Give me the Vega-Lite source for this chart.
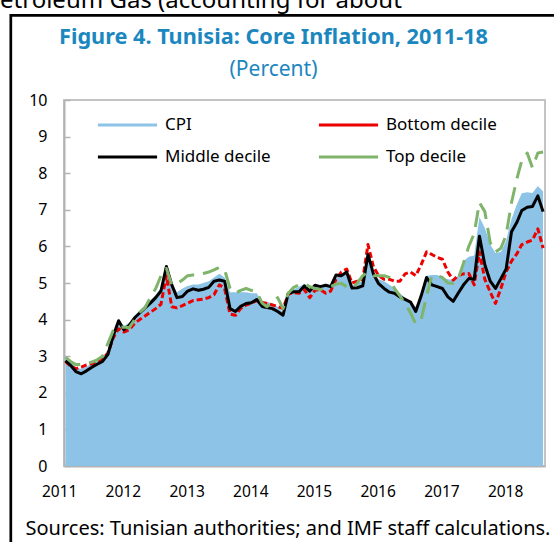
{
  "$schema": "https://vega.github.io/schema/vega-lite/v6.json",
  "width": 481,
  "height": 366,
  "autosize": {"type": "none"},
  "padding": {"left": 64, "top": 100, "right": 9, "bottom": 76},
  "background": "#ffffff",
  "title": {
    "text": "Figure 4. Tunisia: Core Inflation, 2011-18",
    "subtitle": "(Percent)",
    "frame": "group",
    "anchor": "middle",
    "dx": -31,
    "offset": -92,
    "font": "Noto Sans",
    "fontSize": 21.7,
    "fontWeight": "bold",
    "color": "#1b87bf",
    "subtitleFont": "Noto Sans",
    "subtitleFontSize": 21,
    "subtitleColor": "#1b87bf",
    "subtitlePadding": 10
  },
  "config": {
    "font": "Noto Sans",
    "view": {"stroke": "#c4c4c4", "strokeWidth": 2},
    "axis": {
      "grid": false,
      "domainColor": "#b3b3b3",
      "domainWidth": 2,
      "tickColor": "#b3b3b3",
      "tickWidth": 1.5,
      "tickSize": -6,
      "labelColor": "#000000",
      "labelFont": "Noto Sans",
      "titleFont": "Noto Sans",
      "titleColor": "#000000",
      "titleFontWeight": "normal",
      "labelOverlap": false
    },
    "axisX": {
      "labelFontSize": 15.5,
      "labelPadding": 24,
      "labelOffset": -6.4,
      "titleFontSize": 20,
      "titleAnchor": "start",
      "titleAlign": "left",
      "titleBaseline": "alphabetic",
      "titleX": -39,
      "titleY": 68
    },
    "axisY": {
      "labelFontSize": 16,
      "labelPadding": 23,
      "titleAngle": 0,
      "titleAlign": "left",
      "titleBaseline": "alphabetic",
      "titleX": -79,
      "titleY": -93,
      "titleFontSize": 24
    },
    "legend": {
      "labelFont": "Noto Sans"
    }
  },
  "data": {
    "values": [
      {"date": "2011-01-01", "CPI": 3.0, "Bottom": 2.85, "Middle": 2.88, "Top": 2.97},
      {"date": "2011-02-01", "CPI": 2.85, "Bottom": 2.72, "Middle": 2.74, "Top": 2.85},
      {"date": "2011-03-01", "CPI": 2.7, "Bottom": 2.66, "Middle": 2.58, "Top": 2.77},
      {"date": "2011-04-01", "CPI": 2.65, "Bottom": 2.7, "Middle": 2.52, "Top": 2.77},
      {"date": "2011-05-01", "CPI": 2.72, "Bottom": 2.76, "Middle": 2.6, "Top": 2.8},
      {"date": "2011-06-01", "CPI": 2.8, "Bottom": 2.8, "Middle": 2.7, "Top": 2.84},
      {"date": "2011-07-01", "CPI": 2.86, "Bottom": 2.85, "Middle": 2.78, "Top": 2.9},
      {"date": "2011-08-01", "CPI": 2.95, "Bottom": 2.93, "Middle": 2.86, "Top": 3.0},
      {"date": "2011-09-01", "CPI": 3.2, "Bottom": 3.08, "Middle": 3.05, "Top": 3.35},
      {"date": "2011-10-01", "CPI": 3.65, "Bottom": 3.5, "Middle": 3.55, "Top": 3.7},
      {"date": "2011-11-01", "CPI": 3.98, "Bottom": 3.75, "Middle": 3.97, "Top": 3.78},
      {"date": "2011-12-01", "CPI": 3.82, "Bottom": 3.66, "Middle": 3.72, "Top": 3.8},
      {"date": "2012-01-01", "CPI": 3.92, "Bottom": 3.72, "Middle": 3.84, "Top": 3.78},
      {"date": "2012-02-01", "CPI": 4.1, "Bottom": 3.9, "Middle": 4.05, "Top": 4.0},
      {"date": "2012-03-01", "CPI": 4.25, "Bottom": 4.0, "Middle": 4.18, "Top": 4.2},
      {"date": "2012-04-01", "CPI": 4.4, "Bottom": 4.1, "Middle": 4.32, "Top": 4.33},
      {"date": "2012-05-01", "CPI": 4.52, "Bottom": 4.2, "Middle": 4.45, "Top": 4.6},
      {"date": "2012-06-01", "CPI": 4.68, "Bottom": 4.3, "Middle": 4.6, "Top": 4.85},
      {"date": "2012-07-01", "CPI": 4.88, "Bottom": 4.42, "Middle": 4.78, "Top": 5.2},
      {"date": "2012-08-01", "CPI": 5.42, "Bottom": 5.2, "Middle": 5.45, "Top": 5.4},
      {"date": "2012-09-01", "CPI": 4.98, "Bottom": 4.35, "Middle": 4.95, "Top": 4.95},
      {"date": "2012-10-01", "CPI": 4.75, "Bottom": 4.32, "Middle": 4.6, "Top": 4.98},
      {"date": "2012-11-01", "CPI": 4.85, "Bottom": 4.38, "Middle": 4.63, "Top": 5.08},
      {"date": "2012-12-01", "CPI": 4.92, "Bottom": 4.45, "Middle": 4.78, "Top": 5.2},
      {"date": "2013-01-01", "CPI": 4.96, "Bottom": 4.52, "Middle": 4.84, "Top": 5.22},
      {"date": "2013-02-01", "CPI": 4.96, "Bottom": 4.54, "Middle": 4.8, "Top": 5.22},
      {"date": "2013-03-01", "CPI": 5.0, "Bottom": 4.56, "Middle": 4.83, "Top": 5.26},
      {"date": "2013-04-01", "CPI": 5.05, "Bottom": 4.6, "Middle": 4.88, "Top": 5.3},
      {"date": "2013-05-01", "CPI": 5.15, "Bottom": 4.68, "Middle": 5.05, "Top": 5.36},
      {"date": "2013-06-01", "CPI": 5.25, "Bottom": 4.95, "Middle": 5.08, "Top": 5.43},
      {"date": "2013-07-01", "CPI": 5.15, "Bottom": 4.85, "Middle": 5.05, "Top": 5.36},
      {"date": "2013-08-01", "CPI": 4.75, "Bottom": 4.15, "Middle": 4.3, "Top": 4.85},
      {"date": "2013-09-01", "CPI": 4.75, "Bottom": 4.12, "Middle": 4.22, "Top": 4.72},
      {"date": "2013-10-01", "CPI": 4.75, "Bottom": 4.3, "Middle": 4.36, "Top": 4.8},
      {"date": "2013-11-01", "CPI": 4.75, "Bottom": 4.4, "Middle": 4.44, "Top": 4.85},
      {"date": "2013-12-01", "CPI": 4.72, "Bottom": 4.45, "Middle": 4.46, "Top": 4.8},
      {"date": "2014-01-01", "CPI": 4.72, "Bottom": 4.52, "Middle": 4.55, "Top": 4.76},
      {"date": "2014-02-01", "CPI": 4.5, "Bottom": 4.47, "Middle": 4.36, "Top": 4.45},
      {"date": "2014-03-01", "CPI": 4.48, "Bottom": 4.44, "Middle": 4.33, "Top": 4.35},
      {"date": "2014-04-01", "CPI": 4.45, "Bottom": 4.4, "Middle": 4.3, "Top": 4.5},
      {"date": "2014-05-01", "CPI": 4.35, "Bottom": 4.36, "Middle": 4.22, "Top": 4.6},
      {"date": "2014-06-01", "CPI": 4.2, "Bottom": 4.3, "Middle": 4.12, "Top": 4.3},
      {"date": "2014-07-01", "CPI": 4.72, "Bottom": 4.7, "Middle": 4.72, "Top": 4.72},
      {"date": "2014-08-01", "CPI": 4.82, "Bottom": 4.74, "Middle": 4.76, "Top": 4.88},
      {"date": "2014-09-01", "CPI": 4.9, "Bottom": 4.72, "Middle": 4.76, "Top": 4.95},
      {"date": "2014-10-01", "CPI": 4.97, "Bottom": 4.82, "Middle": 4.92, "Top": 4.98},
      {"date": "2014-11-01", "CPI": 4.88, "Bottom": 4.6, "Middle": 4.78, "Top": 4.9},
      {"date": "2014-12-01", "CPI": 4.95, "Bottom": 4.8, "Middle": 4.94, "Top": 4.85},
      {"date": "2015-01-01", "CPI": 4.92, "Bottom": 4.82, "Middle": 4.9, "Top": 4.82},
      {"date": "2015-02-01", "CPI": 4.93, "Bottom": 4.72, "Middle": 4.94, "Top": 4.85},
      {"date": "2015-03-01", "CPI": 4.95, "Bottom": 4.78, "Middle": 4.9, "Top": 4.9},
      {"date": "2015-04-01", "CPI": 5.15, "Bottom": 5.1, "Middle": 5.22, "Top": 4.97},
      {"date": "2015-05-01", "CPI": 5.2, "Bottom": 5.3, "Middle": 5.2, "Top": 4.99},
      {"date": "2015-06-01", "CPI": 5.25, "Bottom": 5.38, "Middle": 5.3, "Top": 4.9},
      {"date": "2015-07-01", "CPI": 4.92, "Bottom": 5.0, "Middle": 4.86, "Top": 4.85},
      {"date": "2015-08-01", "CPI": 5.0, "Bottom": 5.05, "Middle": 4.87, "Top": 5.0},
      {"date": "2015-09-01", "CPI": 5.05, "Bottom": 5.1, "Middle": 4.92, "Top": 5.2},
      {"date": "2015-10-01", "CPI": 5.6, "Bottom": 6.05, "Middle": 5.78, "Top": 5.3},
      {"date": "2015-11-01", "CPI": 5.3, "Bottom": 5.45, "Middle": 5.25, "Top": 5.2},
      {"date": "2015-12-01", "CPI": 5.1, "Bottom": 5.2, "Middle": 4.98, "Top": 5.2},
      {"date": "2016-01-01", "CPI": 5.05, "Bottom": 5.1, "Middle": 4.85, "Top": 5.2},
      {"date": "2016-02-01", "CPI": 4.95, "Bottom": 5.1, "Middle": 4.75, "Top": 5.15},
      {"date": "2016-03-01", "CPI": 4.85, "Bottom": 5.05, "Middle": 4.72, "Top": 4.85},
      {"date": "2016-04-01", "CPI": 4.72, "Bottom": 5.05, "Middle": 4.62, "Top": 4.65},
      {"date": "2016-05-01", "CPI": 4.6, "Bottom": 5.25, "Middle": 4.55, "Top": 4.45},
      {"date": "2016-06-01", "CPI": 4.45, "Bottom": 5.3, "Middle": 4.48, "Top": 4.18},
      {"date": "2016-07-01", "CPI": 4.35, "Bottom": 5.2, "Middle": 4.22, "Top": 3.88},
      {"date": "2016-08-01", "CPI": 4.75, "Bottom": 5.5, "Middle": 4.65, "Top": 4.0},
      {"date": "2016-09-01", "CPI": 5.2, "Bottom": 5.85, "Middle": 5.15, "Top": 4.65},
      {"date": "2016-10-01", "CPI": 5.22, "Bottom": 5.78, "Middle": 4.95, "Top": 5.2},
      {"date": "2016-11-01", "CPI": 5.22, "Bottom": 5.7, "Middle": 4.9, "Top": 5.2},
      {"date": "2016-12-01", "CPI": 5.15, "Bottom": 5.65, "Middle": 4.85, "Top": 5.15},
      {"date": "2017-01-01", "CPI": 5.1, "Bottom": 5.3, "Middle": 4.62, "Top": 5.0},
      {"date": "2017-02-01", "CPI": 5.08, "Bottom": 5.08, "Middle": 4.5, "Top": 4.99},
      {"date": "2017-03-01", "CPI": 5.2, "Bottom": 5.2, "Middle": 4.72, "Top": 5.1},
      {"date": "2017-04-01", "CPI": 5.6, "Bottom": 5.25, "Middle": 4.95, "Top": 5.55},
      {"date": "2017-05-01", "CPI": 5.72, "Bottom": 5.26, "Middle": 5.12, "Top": 6.0},
      {"date": "2017-06-01", "CPI": 5.75, "Bottom": 4.95, "Middle": 5.1, "Top": 6.35},
      {"date": "2017-07-01", "CPI": 6.8, "Bottom": 5.85, "Middle": 6.28, "Top": 7.2},
      {"date": "2017-08-01", "CPI": 6.5, "Bottom": 5.1, "Middle": 5.5, "Top": 6.95},
      {"date": "2017-09-01", "CPI": 6.05, "Bottom": 4.75, "Middle": 5.05, "Top": 6.1},
      {"date": "2017-10-01", "CPI": 5.82, "Bottom": 4.44, "Middle": 4.85, "Top": 5.85},
      {"date": "2017-11-01", "CPI": 5.85, "Bottom": 4.85, "Middle": 5.12, "Top": 5.95},
      {"date": "2017-12-01", "CPI": 6.15, "Bottom": 5.3, "Middle": 5.38, "Top": 6.3},
      {"date": "2018-01-01", "CPI": 6.75, "Bottom": 5.6, "Middle": 6.4, "Top": 7.2},
      {"date": "2018-02-01", "CPI": 7.15, "Bottom": 5.8, "Middle": 6.66, "Top": 7.85},
      {"date": "2018-03-01", "CPI": 7.45, "Bottom": 6.05, "Middle": 6.98, "Top": 8.35},
      {"date": "2018-04-01", "CPI": 7.48, "Bottom": 6.12, "Middle": 7.07, "Top": 8.55},
      {"date": "2018-05-01", "CPI": 7.46, "Bottom": 6.17, "Middle": 7.09, "Top": 8.15},
      {"date": "2018-06-01", "CPI": 7.65, "Bottom": 6.48, "Middle": 7.38, "Top": 8.55},
      {"date": "2018-07-01", "CPI": 7.5, "Bottom": 5.95, "Middle": 6.95, "Top": 8.58}
    ]
  },
  "encoding": {
    "x": {
      "field": "date",
      "type": "temporal",
      "title": "Sources: Tunisian authorities; and IMF staff calculations.",
      "scale": {
        "type": "utc",
        "domain": [
          {"year": 2010, "month": 12, "date": 23, "utc": true},
          {"year": 2018, "month": 7, "date": 12, "utc": true}
        ]
      },
      "axis": {
        "values": [
          {"year": 2011, "month": 1, "date": 1, "utc": true},
          {"year": 2012, "month": 1, "date": 1, "utc": true},
          {"year": 2013, "month": 1, "date": 1, "utc": true},
          {"year": 2014, "month": 1, "date": 1, "utc": true},
          {"year": 2015, "month": 1, "date": 1, "utc": true},
          {"year": 2016, "month": 1, "date": 1, "utc": true},
          {"year": 2017, "month": 1, "date": 1, "utc": true},
          {"year": 2018, "month": 1, "date": 1, "utc": true}
        ],
        "labelExpr": "utcFormat(datum.value, '%Y')"
      }
    }
  },
  "layer": [
    {
      "data": {"values": [{"left": "2010-02-21", "right": "2020-06-01", "top": 12.31, "bottom": -5}]},
      "mark": {"type": "rect", "fill": "transparent", "stroke": "#000000", "strokeWidth": 2.7, "clip": false},
      "encoding": {
        "x": {
          "field": "left",
          "type": "temporal",
          "title": "Sources: Tunisian authorities; and IMF staff calculations.",
          "scale": {
            "type": "utc",
            "domain": [
              {"year": 2010, "month": 12, "date": 23, "utc": true},
              {"year": 2018, "month": 7, "date": 12, "utc": true}
            ]
          }
        },
        "x2": {"field": "right"},
        "y": {
          "field": "top",
          "type": "quantitative",
          "scale": {"domain": [0, 10]},
          "title": "Petroleum Gas (accounting for about",
          "axis": {"values": [0, 1, 2, 3, 4, 5, 6, 7, 8, 9, 10], "labelOverlap": false}
        },
        "y2": {"field": "bottom"}
      }
    },
    {
      "mark": {"type": "area", "opacity": 1},
      "encoding": {
        "y": {
          "field": "CPI",
          "type": "quantitative",
          "title": "Petroleum Gas (accounting for about",
          "scale": {"domain": [0, 10]},
          "axis": {"values": [0, 1, 2, 3, 4, 5, 6, 7, 8, 9, 10], "labelOverlap": false}
        },
        "color": {
          "datum": "CPI",
          "type": "nominal",
          "scale": {
            "domain": ["CPI", "Middle decile", "Bottom decile", "Top decile"],
            "range": ["#8dc3e6", "#000000", "#ee0000", "#7fb46b"]
          },
          "legend": {
            "title": null,
            "orient": "none",
            "legendX": 32,
            "legendY": 10,
            "columns": 2,
            "columnPadding": 46,
            "rowPadding": 2,
            "clipHeight": 30,
            "symbolType": "stroke",
            "symbolSize": 3500,
            "symbolStrokeWidth": 3,
            "labelFontSize": 17,
            "labelOffset": 6,
            "labelColor": "#000000",
            "padding": 0
          }
        }
      }
    },
    {
      "mark": {"type": "line", "strokeWidth": 3, "strokeDash": [6, 3], "strokeJoin": "round"},
      "encoding": {
        "y": {"field": "Bottom", "type": "quantitative", "title": "Petroleum Gas (accounting for about", "scale": {"domain": [0, 10]}, "axis": {"values": [0, 1, 2, 3, 4, 5, 6, 7, 8, 9, 10], "labelOverlap": false}},
        "color": {"datum": "Bottom decile", "type": "nominal"}
      }
    },
    {
      "mark": {"type": "line", "strokeWidth": 3, "strokeJoin": "round"},
      "encoding": {
        "y": {"field": "Middle", "type": "quantitative", "title": "Petroleum Gas (accounting for about", "scale": {"domain": [0, 10]}, "axis": {"values": [0, 1, 2, 3, 4, 5, 6, 7, 8, 9, 10], "labelOverlap": false}},
        "color": {"datum": "Middle decile", "type": "nominal"}
      }
    },
    {
      "mark": {"type": "line", "strokeWidth": 3, "strokeDash": [17, 9], "strokeJoin": "round"},
      "encoding": {
        "y": {"field": "Top", "type": "quantitative", "title": "Petroleum Gas (accounting for about", "scale": {"domain": [0, 10]}, "axis": {"values": [0, 1, 2, 3, 4, 5, 6, 7, 8, 9, 10], "labelOverlap": false}},
        "color": {"datum": "Top decile", "type": "nominal"}
      }
    }
  ]
}
